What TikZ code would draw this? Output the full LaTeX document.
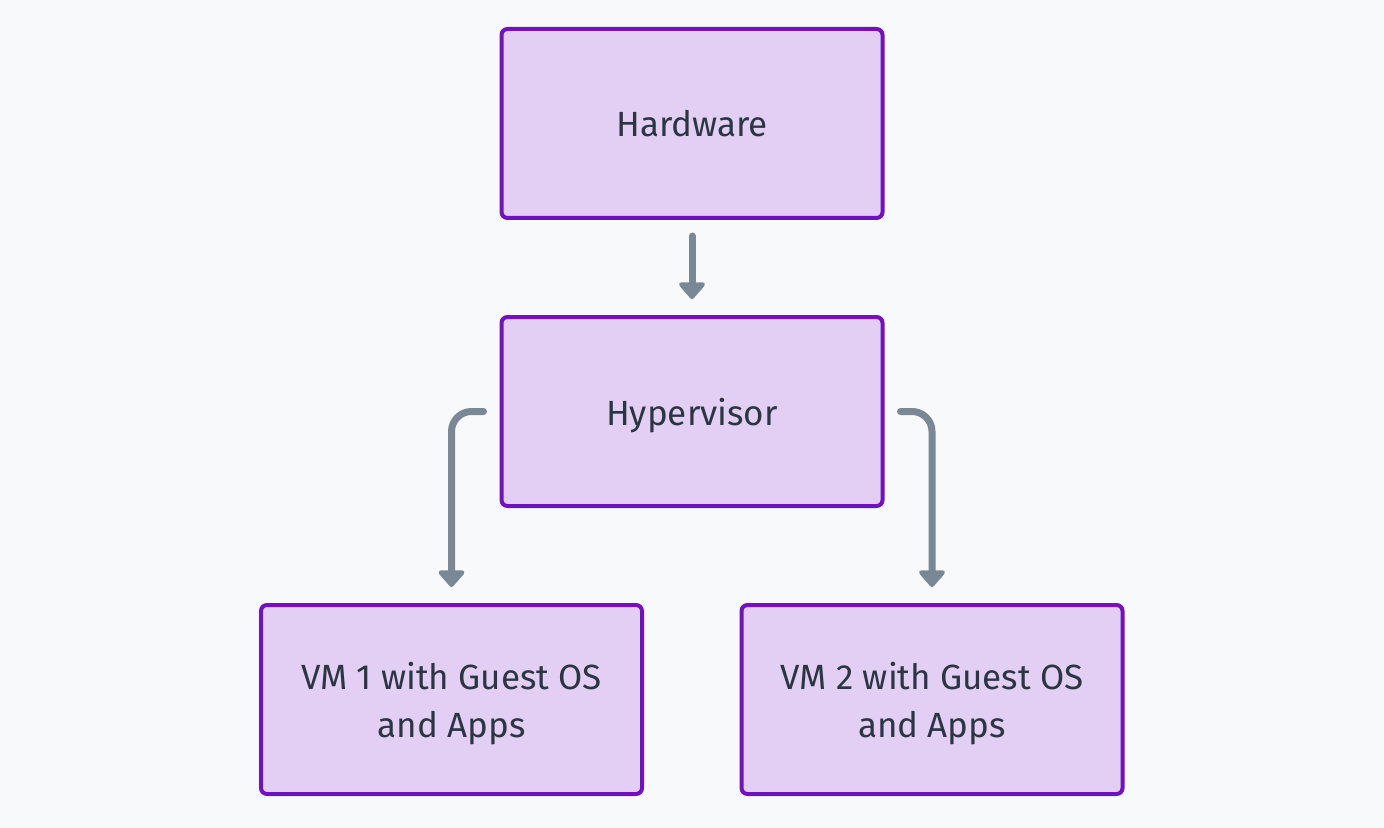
\documentclass[tikz,border=0pt]{standalone}
\usepackage{fontspec}
\setmainfont{Fira Sans}
\usetikzlibrary{arrows.meta}
\definecolor{bgcol}{HTML}{F8F9FA}
\definecolor{boxfill}{HTML}{E3CFF3}
\definecolor{boxline}{HTML}{7211C4}
\definecolor{txtcol}{HTML}{2A3644}
\definecolor{arrcol}{HTML}{7A8895}
\begin{document}
\begin{tikzpicture}[x=0.5pt,y=-0.5pt]
\tikzstyle{every node}=[font=\fontsize{17.5}{24}\selectfont,text=txtcol]
\tikzstyle{layer}=[draw=boxline,fill=boxfill,line width=2pt,rounded corners=3pt,
  minimum width=190.5pt,minimum height=94.5pt,align=center,inner sep=0pt,text depth=0pt]
\tikzstyle{link}=[draw=arrcol,line width=3.5pt,line cap=round,rounded corners=10pt,
  -{Triangle[width=15pt,length=9pt,round]},shorten <=8pt,shorten >=8pt]

\fill[bgcol] (0,0) rectangle (1384,828);
\useasboundingbox (0,0) rectangle (1384,828);

\node[layer] (hw) at (692,123.5) {Hardware};
\node[layer] (hyp) at (692,411.5) {Hypervisor};
\node[layer] (vm1) at (451.5,699.5) {VM 1 with Guest OS\\and Apps};
\node[layer] (vm2) at (932,699.5) {VM 2 with Guest OS\\and Apps};

\draw[link] (hw) -- (hyp);
\draw[link] (hyp.west) -| (vm1.north);
\draw[link] (hyp.east) -| (vm2.north);
\end{tikzpicture}
\end{document}
